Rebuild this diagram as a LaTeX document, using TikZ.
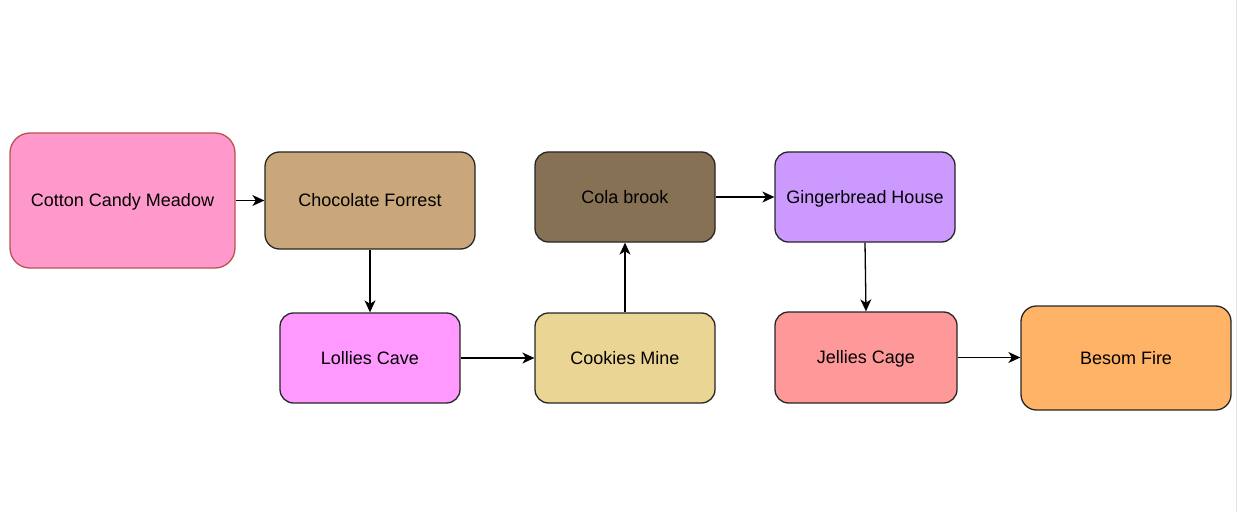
\documentclass[tikz,border=0pt]{standalone}
\usepackage{fontspec}
\setmainfont{Liberation Sans}
\usetikzlibrary{arrows.meta,positioning}
\definecolor{cottonfill}{HTML}{FF99CC}
\definecolor{cottonline}{HTML}{B85450}
\definecolor{chocfill}{HTML}{C9A77A}
\definecolor{lolliesfill}{HTML}{FF99FF}
\definecolor{cookiesfill}{HTML}{EBD594}
\definecolor{colafill}{HTML}{877154}
\definecolor{gingerfill}{HTML}{CC99FF}
\definecolor{jelliesfill}{HTML}{FF9999}
\definecolor{besomfill}{HTML}{FFB366}
\definecolor{edgegray}{HTML}{E3E3E3}

\begin{document}
\begin{tikzpicture}[
  x=1pt, y=1pt,
  font=\fontsize{18}{21}\selectfont,
  >={Stealth[length=12pt,width=11pt,inset=3.5pt]},
  place/.style={draw=black!85, line width=1.3pt, rounded corners=13.5pt, align=center, inner sep=0pt, text height=16.3pt, text depth=3.8pt, minimum width=180pt, minimum height=90pt},
  arr/.style={->, line width=1.3pt}
]
\useasboundingbox (0,0) rectangle (1238,512);
\draw[edgegray, line width=1.5pt] (1236.5,0) -- (1236.5,512);
\node[place, fill=cottonfill, draw=cottonline, minimum width=225pt, minimum height=135pt, rounded corners=20pt] (cotton) at (122.5,311.5) {Cotton Candy Meadow};
\node[place, fill=chocfill, minimum width=210pt, minimum height=97pt, rounded corners=14.5pt] (choc) at (370,311.5) {Chocolate Forrest};
\node[place, fill=lolliesfill] (lollies) at (370,154) {Lollies Cave};
\node[place, fill=cookiesfill] (cookies) at (625,154) {Cookies Mine};
\node[place, fill=colafill] (cola) at (625,315) {Cola brook};
\node[place, fill=gingerfill] (ginger) at (865,315) {Gingerbread House};
\node[place, fill=jelliesfill, minimum width=182pt, minimum height=91pt] (jellies) at (866,154.5) {Jellies Cage};
\node[place, fill=besomfill, minimum width=210pt, minimum height=104pt, rounded corners=15.5pt] (besom) at (1126,154) {Besom Fire};
\foreach \a/\b in {cotton/choc,lollies/cookies,cola/ginger,jellies/besom} \draw[arr] (\a.east) -- (\b.west |- \a.east);
\foreach \a/\b in {choc/lollies,ginger/jellies} \draw[arr] (\a.south) -- (\b.north);
\draw[arr] (cookies.north) -- (cola.south);
\end{tikzpicture}
\end{document}
